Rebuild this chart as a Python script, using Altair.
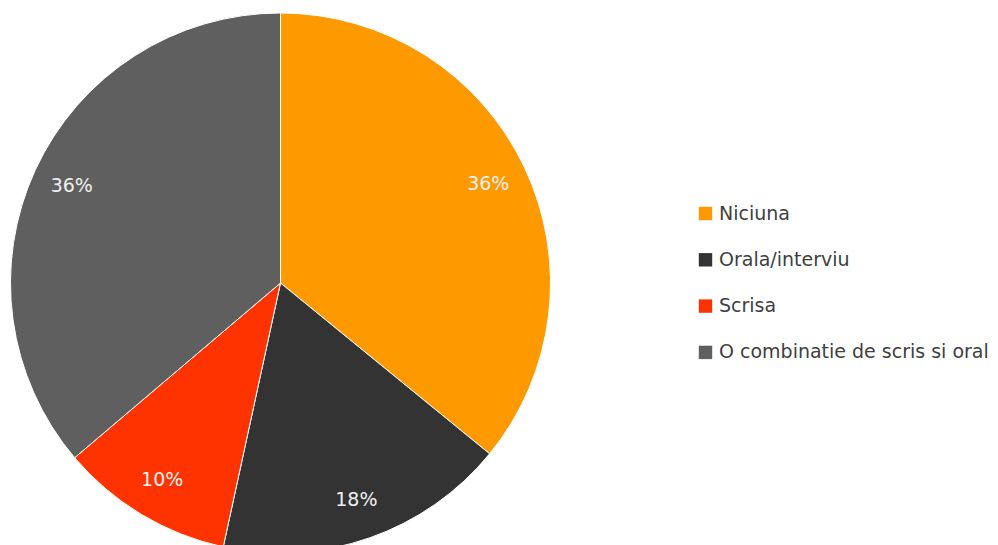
import altair as alt
import pandas as pd

categories = ["Niciuna", "Orala/interviu", "Scrisa", "O combinatie de scris si oral"]
values = [35.9, 17.5, 10.4, 36.2]
labels = ["36%", "18%", "10%", "36%"]
colors = ["#FF9900", "#333333", "#FF3300", "#5F5F5F"]

df = pd.DataFrame({"cat": categories, "val": values, "lab": labels, "order": list(range(len(categories)))})

cx, cy, R = 271.5, 275, 270

base = alt.Chart(df).encode(
    theta=alt.Theta("val:Q", stack=True),
    order=alt.Order("order:Q"),
    x=alt.value(cx),
    y=alt.value(cy),
)

arcs = base.mark_arc(outerRadius=R, stroke="white", strokeWidth=1).encode(
    color=alt.Color(
        "cat:N",
        sort=categories,
        scale=alt.Scale(domain=categories, range=colors),
        legend=alt.Legend(
            title=None,
            orient="none",
            legendX=687,
            legendY=196,
            symbolType="square",
            symbolSize=180,
            symbolStrokeWidth=0,
            labelFont="DejaVu Sans",
            labelFontSize=19,
            labelColor="#404040",
            labelOffset=4,
            rowPadding=26.3,
            labelLimit=400,
        ),
    )
)

text = base.mark_text(radius=230, font="DejaVu Sans", fontSize=19, color="#F0F0F0").encode(
    text="lab:N"
)

chart = (arcs + text).properties(width=980, height=560, padding=0).configure_view(stroke=None)

chart.save("out.html", embed_options={"renderer": "svg", "actions": False})
